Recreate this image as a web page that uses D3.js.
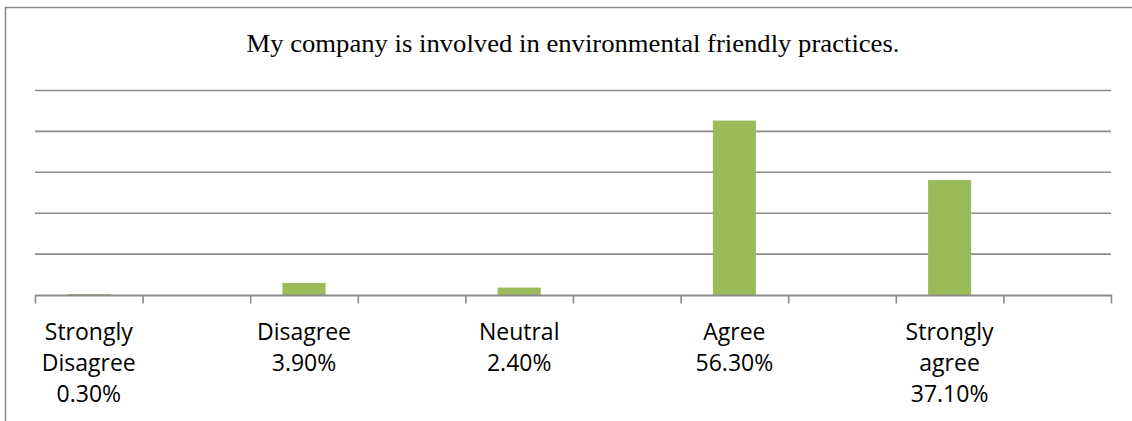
<!DOCTYPE html>
<html>
<head>
<meta charset="utf-8">
<script src="https://cdn.jsdelivr.net/npm/d3@7"></script>
<style>
  html, body { margin: 0; padding: 0; background: #fff; }
  svg { display: block; }
</style>
</head>
<body>
<svg id="chart" width="1132" height="421"></svg>
<script>
// Survey responses: share of respondents per answer
const categories = ["Strongly Disagree", "Disagree", "Neutral", "Agree", "Strongly agree"];
const categoryLines = [["Strongly", "Disagree"], ["Disagree"], ["Neutral"], ["Agree"], ["Strongly", "agree"]];
const values = [0.3, 3.9, 2.4, 56.3, 37.1];
const percentLabels = ["0.30%", "3.90%", "2.40%", "56.30%", "37.10%"];
const title = "My company is involved in environmental friendly practices.";

const W = 1132, H = 421;
const plot = { left: 35, right: 1111, top: 90.5, bottom: 295 };
const yMax = 66;
const gridCount = 5;

const svg = d3.select("#chart");

// outer frame of the chart area
svg.append("rect")
  .attr("x", 5.5).attr("y", 7.5)
  .attr("width", W + 20).attr("height", H + 20)
  .attr("fill", "none")
  .attr("stroke", "#8c8c8c")
  .attr("stroke-width", 1.5);

// each answer occupies every other slot; the slots in between stay empty
const slots = d3.range(categories.length * 2);
const x = d3.scaleBand()
  .domain(slots)
  .range([plot.left, plot.right])
  .paddingInner(0.6)
  .paddingOuter(0.3);
const slotEdge = d3.scaleLinear()
  .domain([0, slots.length])
  .range([plot.left, plot.right]);

const y = d3.scaleLinear()
  .domain([0, yMax])
  .range([plot.bottom, plot.top]);

// horizontal gridlines
const gridValues = d3.range(1, gridCount + 1).map(i => i * yMax / gridCount);
svg.append("g")
  .selectAll("line")
  .data(gridValues)
  .join("line")
  .attr("x1", plot.left).attr("x2", plot.right)
  .attr("y1", d => y(d)).attr("y2", d => y(d))
  .attr("stroke", "#8c8c8c")
  .attr("stroke-width", 1.6);

// bars
svg.append("g")
  .selectAll("rect")
  .data(values)
  .join("rect")
  .attr("x", (d, i) => x(i * 2))
  .attr("width", x.bandwidth())
  .attr("y", d => y(d))
  .attr("height", d => y(0) - y(d))
  .attr("fill", "#9bbb59");

// category axis with tick marks at every slot boundary
const axis = d3.axisBottom(slotEdge)
  .tickValues(d3.range(slots.length + 1))
  .tickFormat("")
  .tickSizeInner(8.5)
  .tickSizeOuter(0);
const axisG = svg.append("g")
  .attr("transform", `translate(0,${plot.bottom})`)
  .call(axis);
axisG.select(".domain").attr("stroke", "#8c8c8c").attr("stroke-width", 1.8);
axisG.selectAll(".tick line").attr("stroke", "#8c8c8c").attr("stroke-width", 1.6);

// category labels with their percentages
const lineGap = 31.2;
const labelG = svg.append("g")
  .attr("font-family", "'Open Sans', sans-serif")
  .attr("font-size", 23)
  .attr("fill", "#000")
  .attr("text-anchor", "middle");
categories.forEach((c, i) => {
  const cx = x(i * 2) + x.bandwidth() / 2;
  const lines = categoryLines[i].concat([percentLabels[i]]);
  const t = labelG.append("text").attr("x", cx).attr("y", 340);
  lines.forEach((ln, j) => {
    t.append("tspan").attr("x", cx).attr("y", 340 + j * lineGap).text(ln);
  });
});

// title, centred over the plot
const titleWidth = 653;
svg.append("text")
  .attr("x", (plot.left + plot.right) / 2)
  .attr("y", 52)
  .attr("text-anchor", "middle")
  .attr("font-family", "'Liberation Serif', 'Times New Roman', serif")
  .attr("font-size", 25)
  .attr("fill", "#000")
  .attr("textLength", titleWidth)
  .attr("lengthAdjust", "spacingAndGlyphs")
  .text(title);
</script>
</body>
</html>
